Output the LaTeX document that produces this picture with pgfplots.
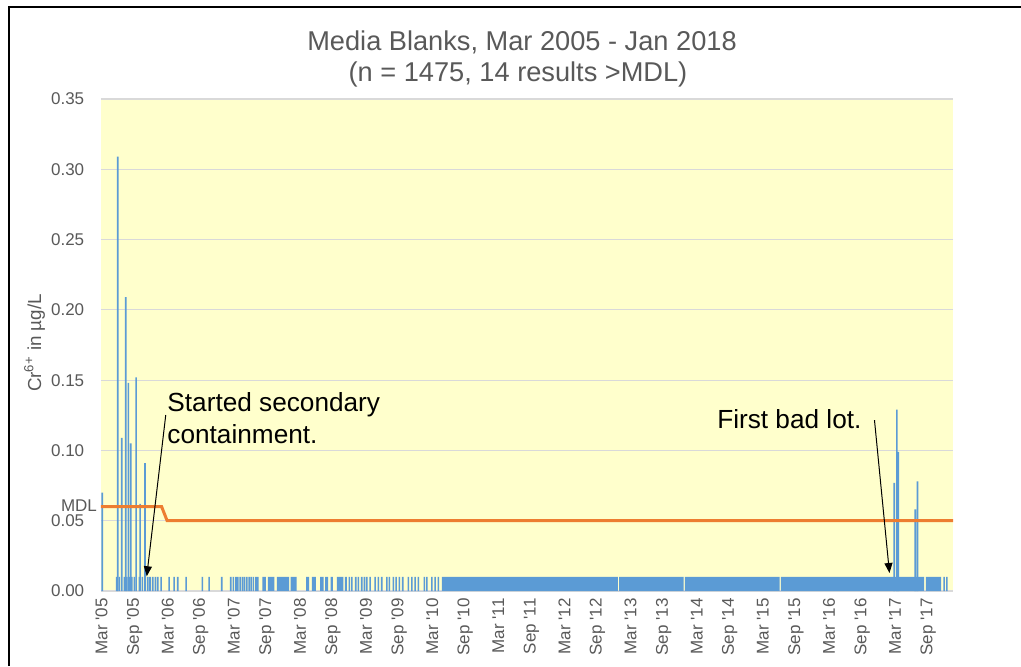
\documentclass[border=0pt]{standalone}
\usepackage{fontspec}
\setmainfont{Liberation Sans}
\usepackage{pgfplots}
\pgfplotsset{compat=1.18}
\usetikzlibrary{arrows.meta}

\definecolor{barblue}{HTML}{5B9BD5}
\definecolor{mdlorange}{HTML}{ED7D31}
\definecolor{plotbg}{HTML}{FFFFCC}
\definecolor{gridgrey}{HTML}{D9D9D9}
\definecolor{textgrey}{HTML}{595959}

\newcommand{\q}{\textquotesingle}

\begin{document}
\begin{tikzpicture}
\path[use as bounding box] (0,0) rectangle (510.5pt,333pt);
% frame of the chart area
\draw[line width=1.2pt] (4.5pt,0pt) -- (4.5pt,329.5pt) -- (510.5pt,329.5pt);

% title
\node[anchor=base, text=textgrey, inner sep=0pt, font=\fontsize{13.6}{16}\selectfont]
  at (261pt,308pt) {Media Blanks, Mar 2005 - Jan 2018};
\node[anchor=base, text=textgrey, inner sep=0pt, font=\fontsize{13.6}{16}\selectfont]
  at (259pt,292.5pt) {(n = 1475, 14 results >MDL)};

% y axis title
\node[anchor=base, rotate=90, text=textgrey, inner sep=0pt, font=\fontsize{9.4}{11}\selectfont]
  at (20.5pt,161.5pt) {Cr\textsuperscript{6+} in µg/L};

\begin{axis}[
  at={(50.5pt,37.5pt)}, anchor=south west,
  width=426pt, height=246pt, scale only axis,
  xmin=-0.1, xmax=154.5, ymin=0, ymax=0.35,
  xtick={0,6,...,150},
  xticklabels={Mar \q05,Sep \q05,Mar \q06,Sep \q06,Mar \q07,Sep \q07,Mar \q08,Sep \q08,
    Mar \q09,Sep \q09,Mar \q10,Sep \q10,Mar \q11,Sep \q11,Mar \q12,Sep \q12,
    Mar \q13,Sep \q13,Mar \q14,Sep \q14,Mar \q15,Sep \q15,Mar \q16,Sep \q16,
    Mar \q17,Sep \q17},
  ytick={0,0.05,0.10,0.15,0.20,0.25,0.30,0.35},
  yticklabels={0.00,0.05,0.10,0.15,0.20,0.25,0.30,0.35},
  major tick length=0pt,
  ymajorgrids,
  grid style={gridgrey, line width=0.6pt},
  separate axis lines,
  x axis line style={gridgrey, line width=0.6pt},
  y axis line style={draw=none},
  axis background/.style={fill=plotbg},
  tick label style={text=textgrey, font=\fontsize{8.5}{10}\selectfont},
  yticklabel style={anchor=east, inner sep=0pt, xshift=-8.2pt},
  xticklabel style={rotate=90, anchor=east, inner sep=0pt},
  xticklabel shift=3.5pt,
  clip=false,
]

% dense runs of non-detects (plotted at 0.01)
\addplot[color=barblue, fill=barblue, draw=none] coordinates {
  (29.18,0)(29.18,0.01)(29.80,0.01)(29.80,0)
  (30.16,0)(30.16,0.01)(31.36,0.01)(31.36,0)
  (31.80,0)(31.80,0.01)(34.03,0.01)(34.03,0)
  (34.30,0)(34.30,0.01)(35.39,0.01)(35.39,0)
  (37.11,0)(37.11,0.01)(37.66,0.01)(37.66,0)
  (38.15,0)(38.15,0.01)(38.87,0.01)(38.87,0)
  (39.66,0)(39.66,0.01)(40.29,0.01)(40.29,0)
  (40.56,0)(40.56,0.01)(41.11,0.01)(41.11,0)
  (41.56,0)(41.56,0.01)(41.96,0.01)(41.96,0)
  (42.69,0)(42.69,0.01)(43.88,0.01)(43.88,0)
  (44.16,0)(44.16,0.01)(44.50,0.01)(44.50,0)
  (61.74,0)(61.74,0.01)(93.67,0.01)(93.67,0)
  (93.91,0)(93.91,0.01)(105.60,0.01)(105.60,0)
  (105.84,0)(105.84,0.01)(123.02,0.01)(123.02,0)
  (123.26,0)(123.26,0.01)(149.27,0.01)(149.27,0)
  (149.58,0)(149.58,0.01)(152.36,0.01)(152.36,0)
} \closedcycle;

% single non-detects (plotted at 0.01)
\addplot[ybar, bar width=0.8pt, bar shift=0pt, fill=barblue, draw=none] coordinates {
  (2.76,0.01)(3.23,0.01)(4.14,0.01)(4.57,0.01)(5.05,0.01)(5.48,0.01)(5.95,0.01)
  (6.86,0.01)(7.40,0.01)(8.38,0.01)(8.80,0.01)(9.29,0.01)(9.76,0.01)(10.20,0.01)
  (10.80,0.01)(12.25,0.01)(13.16,0.01)(13.83,0.01)(15.34,0.01)(18.29,0.01)
  (19.51,0.01)(21.81,0.01)(23.45,0.01)(23.92,0.01)(24.36,0.01)(24.72,0.01)
  (25.14,0.01)(25.55,0.01)(25.92,0.01)(26.35,0.01)(26.77,0.01)(27.13,0.01)
  (27.55,0.01)(27.99,0.01)(28.35,0.01)
  (44.97,0.01)(45.41,0.01)(46.13,0.01)(46.61,0.01)(47.22,0.01)(47.69,0.01)
  (48.13,0.01)(48.73,0.01)(49.64,0.01)(50.24,0.01)(50.85,0.01)(51.76,0.01)
  (52.23,0.01)(52.96,0.01)(53.45,0.01)(54.05,0.01)(54.66,0.01)(55.68,0.01)
  (56.30,0.01)(56.90,0.01)(57.50,0.01)(58.58,0.01)(59.02,0.01)(59.93,0.01)
  (60.53,0.01)(61.12,0.01)
  (152.90,0.01)(153.39,0.01)
};

% results above the MDL
\addplot[ybar, bar width=0.8pt, bar shift=0pt, fill=barblue, draw=none] coordinates {
  (0.12,0.070)(2.94,0.309)(3.67,0.109)(4.39,0.209)(4.86,0.148)(5.30,0.105)
  (6.26,0.152)(6.99,0.062)(7.89,0.091)
  (143.84,0.077)(144.32,0.129)(144.56,0.099)(147.64,0.058)(148.06,0.078)
};

% method detection limit
\addplot[color=mdlorange, line width=1.5pt, mark=none] coordinates {
  (-0.1,0.06)(10.9,0.06)(11.9,0.05)(154.5,0.05)
};

\node[anchor=east, inner sep=0pt, text=textgrey, font=\fontsize{8.5}{10}\selectfont]
  at (axis cs:-0.1,0.06) [xshift=-1.85pt, yshift=0.6pt] {MDL};

% annotations
\node[anchor=base west, inner sep=0pt, font=\fontsize{13.1}{15}\selectfont]
  at (axis cs:11.89,0.1276) {Started secondary};
\node[anchor=base west, inner sep=0pt, font=\fontsize{13.1}{15}\selectfont]
  at (axis cs:11.89,0.1046) {containment.};
\draw[-{Triangle[length=5pt,width=4pt]}, line width=0.5pt]
  (axis cs:11.65,0.1252) -- (axis cs:8.20,0.0105);

\node[anchor=base west, inner sep=0pt, font=\fontsize{13.1}{15}\selectfont]
  at (axis cs:111.65,0.1157) {First bad lot.};
\draw[-{Triangle[length=5pt,width=4pt]}, line width=0.5pt]
  (axis cs:140.25,0.1216) -- (axis cs:142.97,0.0128);
\end{axis}
\end{tikzpicture}
\end{document}
